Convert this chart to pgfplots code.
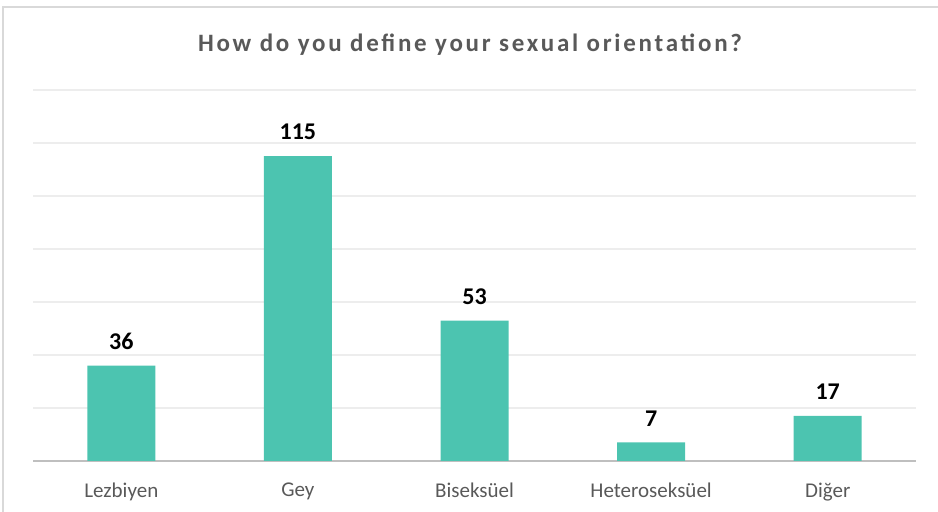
\documentclass[border=0pt]{standalone}
\usepackage{fontspec}
\setmainfont{Carlito}
\usepackage{pgfplots}
\pgfplotsset{compat=1.18}
\definecolor{barc}{HTML}{4CC4B0}
\definecolor{txt}{HTML}{595959}
\definecolor{gridc}{HTML}{EDEDED}
\definecolor{basec}{HTML}{BFBFBF}
\definecolor{borderc}{HTML}{D9D9D9}
\begin{document}
\begin{tikzpicture}[x=1bp,y=1bp]
\path[use as bounding box] (0,0) rectangle (938,512);
\draw[borderc, line width=1.5bp] (3,0) -- (3,505) -- (938,505);
\node[txt, font=\fontsize{25bp}{28bp}\selectfont\bfseries\addfontfeatures{LetterSpace=11}] at (470,467) {How do you define your sexual orientation?};
\begin{axis}[
  at={(33bp,51bp)}, anchor=south west,
  scale only axis, width=883bp, height=371bp,
  xmin=-0.5, xmax=4.5, ymin=0, ymax=140,
  axis x line*=bottom, axis y line*=left,
  x axis line style={draw=basec, line width=1.5bp},
  y axis line style={draw=none},
  ytick={0,20,...,140}, yticklabels={},
  ymajorgrids, grid style={draw=gridc, line width=1.3bp},
  xtick=data,
  xticklabels={Lezbiyen,Gey,Biseksüel,Heteroseksüel,Diğer},
  xtick style={draw=none}, ytick style={draw=none},
  xticklabel style={txt, font=\fontsize{21bp}{24bp}\selectfont, yshift=-14bp},
  /pgf/number format/assume math mode=true,
  ybar, bar width=68bp, bar shift=0pt,
  nodes near coords,
  nodes near coords style={black, font=\fontsize{24bp}{27bp}\selectfont\bfseries, anchor=south, inner sep=0pt, yshift=16bp},
  clip=false,
]
\addplot[fill=barc, draw=none] coordinates {(0,36) (1,115) (2,53) (3,7) (4,17)};
\end{axis}
\end{tikzpicture}
\end{document}
